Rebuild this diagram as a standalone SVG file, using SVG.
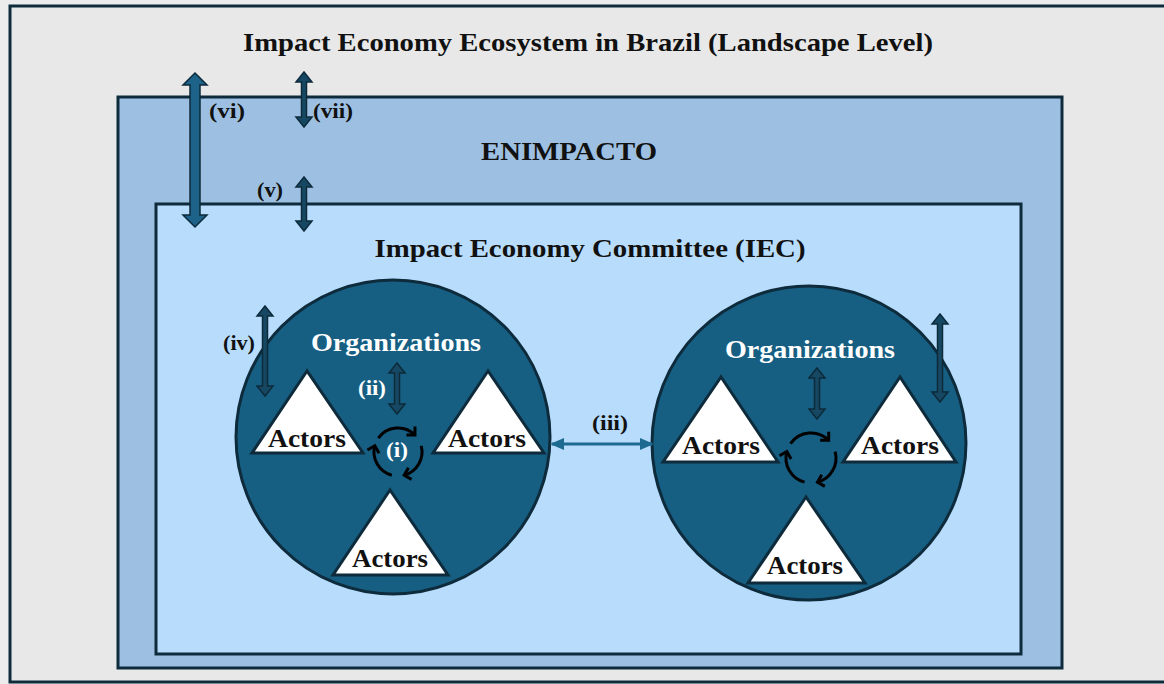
<svg xmlns="http://www.w3.org/2000/svg" width="1164" height="684" viewBox="0 0 1164 684">
  <style>
    .frame { stroke: #0e2b3c; stroke-width: 3; }
    .serif { font-family: "Liberation Serif", "DejaVu Serif", serif; font-weight: bold; }
    .dark { fill: #111111; }
    .light { fill: #ffffff; }
    .tri { fill: #ffffff; stroke: #0e2b3c; stroke-width: 3; stroke-linejoin: miter; }
    .org { fill: #165e82; stroke: #0e2b3c; stroke-width: 3; }
    .dbl { fill: #174863; stroke: #0c2a3a; stroke-width: 1.5; stroke-linejoin: miter; }
    .cycle { fill: none; stroke: #000000; stroke-width: 3; marker-end: url(#chev); }
  </style>
  <defs>
    <marker id="chev" markerUnits="userSpaceOnUse" viewBox="-9 -8 12 16" markerWidth="12" markerHeight="16" refX="0" refY="0" orient="auto">
      <path d="M-6,-6 L0,0 L-6,6" fill="none" stroke="#000000" stroke-width="3"/>
    </marker>
    <marker id="tipBlue" markerUnits="userSpaceOnUse" viewBox="0 -7 14 14" markerWidth="14" markerHeight="14" refX="12" refY="0" orient="auto-start-reverse">
      <path d="M0,-6 L14,0 L0,6 Z" fill="#1c6a90"/>
    </marker>
  </defs>

  <!-- page background -->
  <rect x="0" y="0" width="1164" height="684" fill="#ececec"/>

  <!-- landscape level frame -->
  <g id="landscape">
    <rect class="frame" x="10" y="6" width="1160" height="676" fill="#e8e8e8"/>
    <text class="serif dark" x="588" y="51" font-size="26" text-anchor="middle" textLength="690" lengthAdjust="spacingAndGlyphs">Impact Economy Ecosystem in Brazil (Landscape Level)</text>
  </g>

  <!-- ENIMPACTO frame -->
  <g id="enimpacto">
    <rect class="frame" x="118" y="97" width="944" height="571" fill="#9dc0e2"/>
    <text class="serif dark" x="569" y="160" font-size="26" text-anchor="middle" textLength="176" lengthAdjust="spacingAndGlyphs">ENIMPACTO</text>
  </g>

  <!-- committee frame -->
  <g id="iec">
    <rect class="frame" x="156" y="204" width="865" height="450" fill="#b8ddfc"/>
    <text class="serif dark" x="590" y="257" font-size="26" text-anchor="middle" textLength="431" lengthAdjust="spacingAndGlyphs">Impact Economy Committee (IEC)</text>
  </g>

  <!-- left organization cluster -->
  <g id="org-left">
    <circle class="org" cx="393" cy="437" r="157"/>
    <text class="serif light" x="396" y="351" font-size="26" text-anchor="middle" textLength="170" lengthAdjust="spacingAndGlyphs">Organizations</text>
    <g id="actors-left-1">
      <polygon class="tri" points="307,371 252,453 363,453"/>
      <text class="serif dark" x="307" y="447" font-size="25" text-anchor="middle" textLength="78" lengthAdjust="spacingAndGlyphs">Actors</text>
    </g>
    <g id="actors-left-2">
      <polygon class="tri" points="488,371 433,453 544,453"/>
      <text class="serif dark" x="487" y="447" font-size="25" text-anchor="middle" textLength="78" lengthAdjust="spacingAndGlyphs">Actors</text>
    </g>
    <g id="actors-left-3">
      <polygon class="tri" points="390,490 333,575 448,575"/>
      <text class="serif dark" x="390" y="567" font-size="25" text-anchor="middle" textLength="76" lengthAdjust="spacingAndGlyphs">Actors</text>
    </g>
  </g>

  <!-- right organization cluster -->
  <g id="org-right">
    <circle class="org" cx="809" cy="443" r="157"/>
    <text class="serif light" x="810" y="358" font-size="26" text-anchor="middle" textLength="170" lengthAdjust="spacingAndGlyphs">Organizations</text>
    <g id="actors-right-1">
      <polygon class="tri" points="721,377 663,462 778,462"/>
      <text class="serif dark" x="721" y="454" font-size="25" text-anchor="middle" textLength="78" lengthAdjust="spacingAndGlyphs">Actors</text>
    </g>
    <g id="actors-right-2">
      <polygon class="tri" points="900,377 843,462 956,462"/>
      <text class="serif dark" x="900" y="454" font-size="25" text-anchor="middle" textLength="78" lengthAdjust="spacingAndGlyphs">Actors</text>
    </g>
    <g id="actors-right-3">
      <polygon class="tri" points="806,497 748,583 865,583"/>
      <text class="serif dark" x="805" y="574" font-size="25" text-anchor="middle" textLength="76" lengthAdjust="spacingAndGlyphs">Actors</text>
    </g>
  </g>

  <!-- connectors -->
  <g id="connectors">
    <!-- (vi) landscape to committee -->
    <polygon class="dbl" fill="#1d6289" style="fill:#1d6289" points="195,73 207,85 200,85 200,215 207,215 195,227 183,215 190,215 190,85 183,85"/>
    <!-- (vii) landscape to ENIMPACTO -->
    <polygon class="dbl" points="304,72 312,82 306.5,82 306.5,117 312,117 304,127 296,117 301.5,117 301.5,82 296,82"/>
    <!-- (v) ENIMPACTO to committee -->
    <polygon class="dbl" points="304,177 312,187 306.5,187 306.5,221 312,221 304,231 296,221 301.5,221 301.5,187 296,187"/>
    <!-- (iv) committee to organizations -->
    <polygon class="dbl" points="265,306 273,316 267.5,316 267.5,386 273,386 265,396 257,386 262.5,386 262.5,316 257,316"/>
    <!-- (ii) organizations to actors -->
    <polygon class="dbl" points="397,363 405,373 399.5,373 399.5,404 405,404 397,414 389,404 394.5,404 394.5,373 389,373"/>
    <polygon class="dbl" points="817,368 825,378 819.5,378 819.5,409 825,409 817,419 809,409 814.5,409 814.5,378 809,378"/>
    <polygon class="dbl" points="940,314 948,324 942.5,324 942.5,392 948,392 940,402 932,392 937.5,392 937.5,324 932,324"/>

    <!-- (iii) between organizations -->
    <line x1="552" y1="444" x2="652" y2="444" stroke="#1c6a90" stroke-width="3" marker-start="url(#tipBlue)" marker-end="url(#tipBlue)"/>

    <!-- (i) actor interaction cycles -->
    <path class="cycle" d="M378.34,438.23 A24,24 0 0 1 414.97,435.03"/>
    <path class="cycle" d="M421.18,445.79 A24,24 0 0 1 404.21,475.18"/>
    <path class="cycle" d="M391.79,475.18 A24,24 0 0 1 374.82,445.79"/>

    <path class="cycle" d="M790.52,443.66 A25,25 0 0 1 828.68,440.32"/>
    <path class="cycle" d="M835.15,451.53 A25,25 0 0 1 817.47,482.15"/>
    <path class="cycle" d="M804.53,482.15 A25,25 0 0 1 786.85,451.53"/>
  </g>

  <!-- interaction labels -->
  <g id="labels" font-size="20">
    <text class="serif dark" x="227" y="118" text-anchor="middle" textLength="36" lengthAdjust="spacingAndGlyphs">(vi)</text>
    <text class="serif dark" x="333" y="118" text-anchor="middle" textLength="40" lengthAdjust="spacingAndGlyphs">(vii)</text>
    <text class="serif dark" x="270" y="197" text-anchor="middle" textLength="26" lengthAdjust="spacingAndGlyphs">(v)</text>
    <text class="serif dark" x="239" y="350" text-anchor="middle" textLength="32" lengthAdjust="spacingAndGlyphs">(iv)</text>
    <text class="serif light" x="372" y="395" text-anchor="middle" textLength="28" lengthAdjust="spacingAndGlyphs">(ii)</text>
    <text class="serif light" x="397" y="457" text-anchor="middle" textLength="22" lengthAdjust="spacingAndGlyphs">(i)</text>
    <text class="serif dark" x="610" y="430" text-anchor="middle" textLength="36" lengthAdjust="spacingAndGlyphs">(iii)</text>
  </g>
</svg>
